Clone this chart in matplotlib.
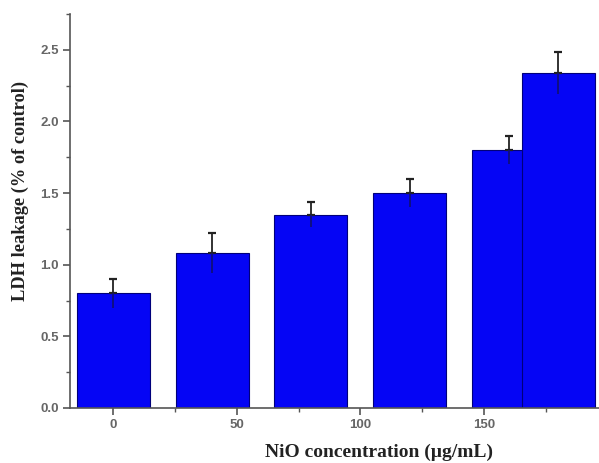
import matplotlib
matplotlib.use("Agg")
import matplotlib.pyplot as plt
from matplotlib.ticker import MultipleLocator, FormatStrFormatter

positions = [0, 40, 80, 120, 160, 180]
values = [0.80, 1.08, 1.35, 1.50, 1.80, 2.34]
errors = [0.10, 0.14, 0.09, 0.10, 0.10, 0.145]
xticks = [0, 50, 100, 150]
xlabel = "NiO concentration (\u00b5g/mL)"
ylabel = "LDH leakage (% of control)"

fig = plt.figure(figsize=(5.99, 4.63), dpi=100)
ax = fig.add_axes([70/599, 55/463, 529/599, 394/463])

ax.bar(positions, values, width=29.5, color="#0505F5", edgecolor="#00007A",
       linewidth=0.8, zorder=2)
# upper error bars with caps
ax.errorbar(positions, values, yerr=[[0]*len(errors), errors], fmt="none",
            ecolor="#222222", elinewidth=1.3, capsize=3, capthick=1.6, zorder=3)
# lower portion, faint, no caps
ax.errorbar(positions, values, yerr=[errors, [0]*len(errors)], fmt="none",
            ecolor="#10107a", elinewidth=1.3, capsize=0, zorder=3)

ax.set_xlim(-17.4, 196.4)
ax.set_ylim(0, 2.75)
ax.set_xticks(xticks)
ax.xaxis.set_minor_locator(MultipleLocator(25))
ax.yaxis.set_major_locator(MultipleLocator(0.5))
ax.yaxis.set_minor_locator(MultipleLocator(0.25))
ax.yaxis.set_major_formatter(FormatStrFormatter("%.1f"))

for s in ["top", "right"]:
    ax.spines[s].set_visible(False)
for s in ["left", "bottom"]:
    ax.spines[s].set_color("#555555")
    ax.spines[s].set_linewidth(1.2)

ax.tick_params(axis="both", which="major", direction="out", length=5, width=1.2,
               color="#555555", labelsize=9.5, labelcolor="#666666", pad=3)
ax.tick_params(axis="both", which="minor", direction="out", length=3, width=1.0,
               color="#555555")
for lab in ax.get_xticklabels() + ax.get_yticklabels():
    lab.set_fontfamily("Liberation Sans")
    lab.set_fontweight("bold")

xl = ax.set_xlabel(xlabel, family="Liberation Serif", fontweight="bold", fontsize=14,
                   color="#222222")
xl.set_verticalalignment("center")
ax.xaxis.set_label_coords(0.584, -0.112)
yl = ax.set_ylabel(ylabel, family="Liberation Serif", fontweight="bold", fontsize=13.2,
                   color="#222222")
yl.set_verticalalignment("center")
ax.yaxis.set_label_coords(-0.0945, 0.55)

fig.savefig("out.png", dpi=100)
